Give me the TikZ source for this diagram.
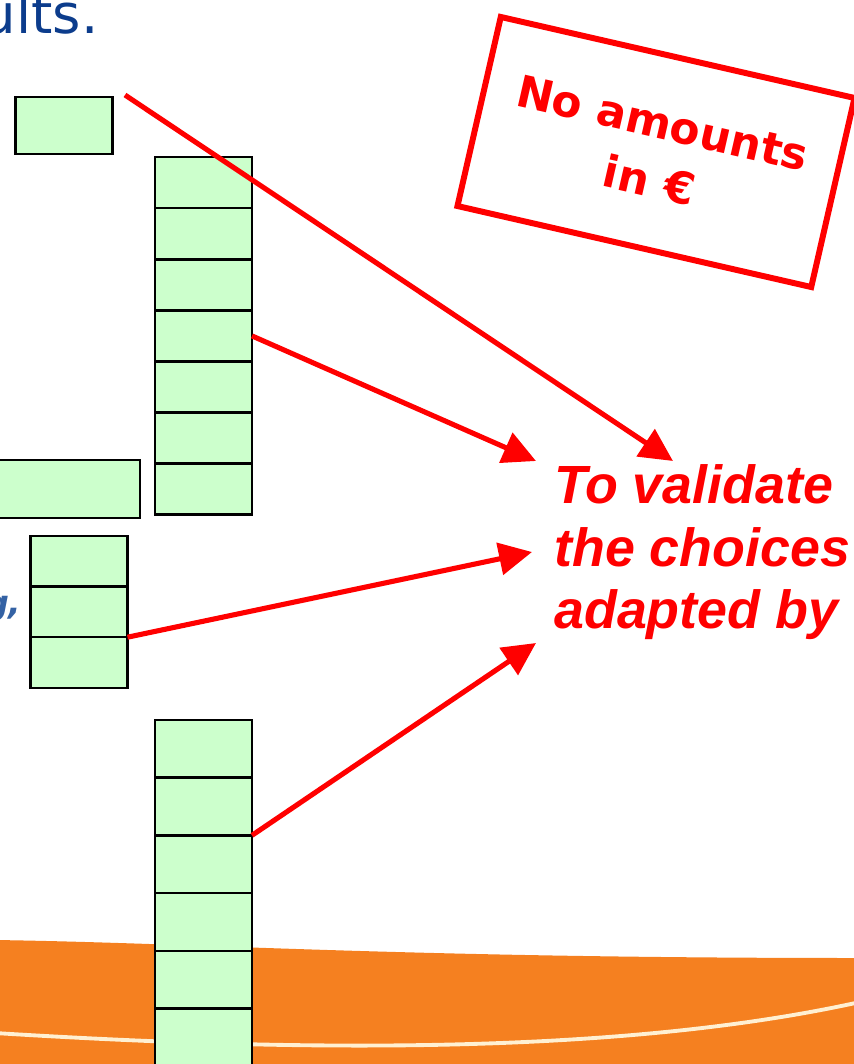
\documentclass[tikz,border=0pt]{standalone}
\usepackage{fontspec}
\usetikzlibrary{arrows.meta}
\newfontfamily\fuentecaja{DejaVu Sans}
\newfontfamily\fuenterotulo{Liberation Sans}
\definecolor{verdecelda}{HTML}{CCFFCC}
\definecolor{azultitulo}{RGB}{12,60,140}
\definecolor{azultexto}{RGB}{52,98,164}
\definecolor{naranja}{RGB}{245,128,32}
\definecolor{crema}{RGB}{255,240,210}
\tikzset{
  celda/.style={draw=black, fill=verdecelda, line width=1.4pt, inner sep=0pt, outer sep=0pt,
    minimum width=1.94cm, minimum height=1.02cm},
  celdaalta/.style={celda, minimum height=1.154cm},
  flecha/.style={red, line width=2.9pt, -{Triangle[length=0.66cm,width=0.64cm]}},
}
\begin{document}
\begin{tikzpicture}[x=0.02cm, y=-0.02cm]
\useasboundingbox (0,0) rectangle (854,1064);

% Banda naranja del pie
\fill[naranja] (-5,940) .. controls (200,943) and (400,958) .. (860,958) -- (860,1070) -- (-5,1070) -- cycle;
\draw[crema, line width=2.2pt] (-5,1033) .. controls (300,1052) and (620,1055) .. (860,1002);

% Titulo cortado
\node[azultitulo, anchor=base east, inner sep=0pt, font=\fuentecaja\fontsize{31}{36}\selectfont] (titulo) at (99,34) {ults.};
\node[azultexto, anchor=base east, inner sep=0pt, font=\fuentecaja\bfseries\itshape\fontsize{19}{23}\selectfont] (resto) at (22,614) {g,};

% Caja superior
\node[celda, minimum height=1.14cm] (caja) at (64,125.5) {};

% Columna 1: siete celdas
\node[celda] (c1a) at (203.5,182.6) {};
\node[celda] (c1b) at (203.5,233.7) {};
\node[celda] (c1c) at (203.5,284.8) {};
\node[celda] (c1d) at (203.5,335.9) {};
\node[celda] (c1e) at (203.5,387.0) {};
\node[celda] (c1f) at (203.5,438.1) {};
\node[celda] (c1g) at (203.5,489.2) {};

% Caja ancha
\node[celda, minimum width=3cm, minimum height=1.16cm] (ancha) at (65,489) {};

% Columna 2: tres celdas
\node[celda] (c2a) at (79,561.3) {};
\node[celda] (c2b) at (79,612.0) {};
\node[celda] (c2c) at (79,662.7) {};

% Columna 3: seis celdas
\node[celdaalta] (c3a) at (203.5,748.8) {};
\node[celdaalta] (c3b) at (203.5,806.5) {};
\node[celdaalta] (c3c) at (203.5,864.2) {};
\node[celdaalta] (c3d) at (203.5,921.9) {};
\node[celdaalta] (c3e) at (203.5,979.6) {};
\node[celdaalta] (c3f) at (203.5,1037.3) {};

% Aviso girado
\node[draw=red, line width=3.4pt, rotate=-12.9, minimum width=7.26cm, minimum height=3.88cm,
  align=center, red, font=\fuentecaja\bfseries\fontsize{25}{33.6}\selectfont] (aviso) at (656,152) {No amounts\\in €};

% Texto de destino
\node[red, anchor=north west, align=left, inner sep=0pt,
  font=\fuenterotulo\bfseries\itshape\fontsize{30.6}{35.7}\selectfont] (validar) at (554,464) {To validate\\the choices\\adapted by};

% Flechas
\coordinate (s1) at (125,95);
\coordinate (p1) at (673,461);
\coordinate (p2) at (536,461);
\coordinate (p3) at (532,552);
\coordinate (p4) at (536,643);
\draw[flecha] (s1) -- (p1);
\draw[flecha] (c1d.east) -- (p2);
\draw[flecha] (c2c.north east) -- (p3);
\draw[flecha] (c3c.north east) -- (p4);

\end{tikzpicture}
\end{document}
